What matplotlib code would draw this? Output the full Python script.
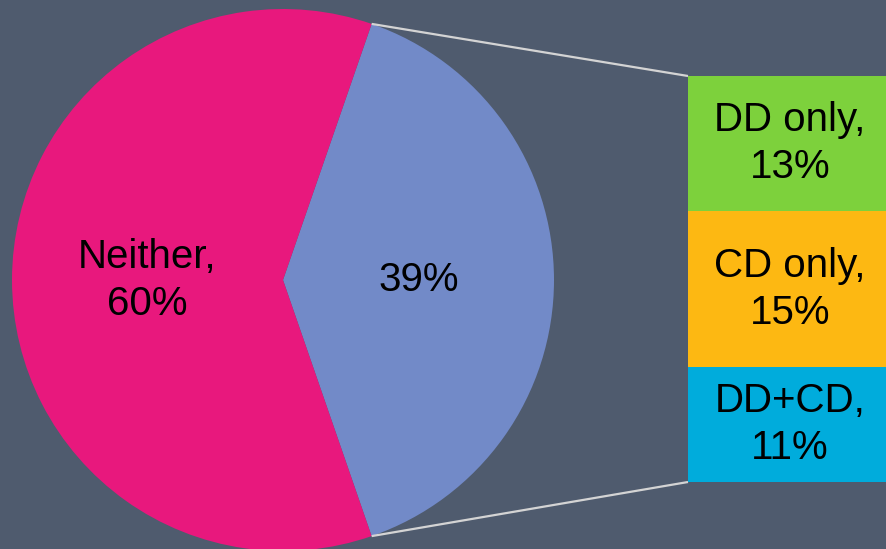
import matplotlib.pyplot as plt
import numpy as np

# pie: share of cases
pie_labels = ['39%', 'Neither,\n60%']
pie_values = [39, 60]
pie_colors = ['#728AC8', '#E8187D']

# breakdown bar (bottom to top)
bar_labels = ['DD+CD,\n11%', 'CD only,\n15%', 'DD only,\n13%']
bar_values = [11, 15, 13]
bar_colors = ['#00ACDC', '#FDB812', '#7DD13C']

bg = '#4F5B6E'
W, H = 886, 549
plt.rcParams['font.family'] = ['Liberation Sans', 'DejaVu Sans']

fig = plt.figure(figsize=(W / 100, H / 100), dpi=100, facecolor=bg)
ax = fig.add_axes([0, 0, 1, 1])
ax.set_facecolor(bg)

cx, cy, r = 283, H - 280, 271
span = 360 * pie_values[0] / sum(pie_values)
wedges, texts = ax.pie(pie_values, colors=pie_colors, labels=pie_labels,
                       labeldistance=0.5, startangle=-span / 2,
                       center=(cx, cy), radius=r, frame=True,
                       textprops=dict(fontsize=29, color='black', ha='center',
                                      va='center', linespacing=1.3))
ax.set_xlim(0, W)
ax.set_ylim(0, H)
ax.set_aspect('equal')
ax.axis('off')

# bar axes
bx0, by0, bw, bh = 688, H - 482, 204, 406
ax2 = fig.add_axes([bx0 / W, by0 / H, bw / W, bh / H])
ax2.set_xlim(0, 1)
ax2.set_ylim(0, sum(bar_values))
ax2.axis('off')
bottoms = np.cumsum([0] + bar_values[:-1])
ax2.bar(0.5, bar_values, bottom=bottoms, width=1, color=bar_colors)
for lab, v, b in zip(bar_labels, bar_values, bottoms):
    ax2.text(0.5, b + v / 2, lab, ha='center', va='center', fontsize=29,
             color='black', linespacing=1.3)

# connector lines
a = np.deg2rad(span / 2)
px, py_top, py_bot = cx + r * np.cos(a), cy + r * np.sin(a), cy - r * np.sin(a)
ax.plot([px, bx0], [py_top, by0 + bh], color='#D4D4D4', lw=1.6, solid_capstyle='butt')
ax.plot([px, bx0], [py_bot, by0], color='#D4D4D4', lw=1.6, solid_capstyle='butt')

fig.savefig('out.png', dpi=100, facecolor=bg)
